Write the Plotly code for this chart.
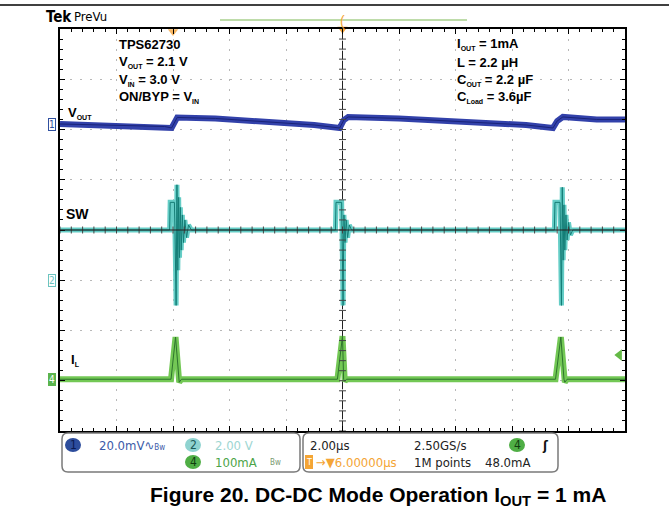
import numpy as np
import plotly.graph_objects as go

# ---- scope screen data (time in us, per channel units) ----
# channel settings
ch1_scale_mv = 20.0     # Vout, mV/div
ch1_pos_div = 2.09
ch2_scale_v = 2.0       # SW, V/div
ch2_pos_div = -1.0
ch4_scale_ma = 100.0    # IL, mA/div
ch4_pos_div = -2.97
trig_pos_us = -6.0
trig_level_ma = 48.0

# Vout ripple (mV, AC)
vout_t = [-10, -6.3, -6.05, -5.85, -4.5, -1.0, -0.1, 0.05, 0.2, 2.0, 6.5, 7.45, 7.6, 7.8, 9.0, 10]
vout_mv = [0.4, -0.6, -1.2, 3.0, 2.6, 0.0, -1.2, 2.0, 3.2, 2.6, 0.0, -1.2, 1.6, 3.2, 2.2, 2.2]

# switch node (V)
sw_t = [-10, -6.12, -6.10, -5.95, -5.93, -5.89, -5.86, -5.83, -5.80, -5.77, -5.74, -5.71,
        -5.67, -5.63, -5.58, -5.52, -5.45, -5.35,
        -0.25, -0.23, -0.03, -0.01, 0.02, 0.05, 0.09, 0.13, 0.18, 0.24, 0.32,
        7.50, 7.52, 7.70, 7.72, 7.75, 7.78, 7.81, 7.84, 7.87, 7.91, 7.95, 8.00, 8.07, 8.15, 10]
sw_v = [2.0, 2.0, 3.1, 3.1, 2.0, -1.0, 3.8, 0.4, 3.3, 0.9, 2.9, 1.2,
        2.6, 1.5, 2.4, 1.7, 2.2, 2.0,
        2.0, 3.1, 3.1, 2.0, -1.0, 2.6, 1.5, 2.4, 1.7, 2.2, 2.0,
        2.0, 3.1, 3.1, 2.0, -1.0, 3.7, 0.8, 3.0, 1.2, 2.6, 1.6, 2.3, 1.8, 2.0, 2.0]

# inductor current (mA)
il_t = [-10, -6.07, -5.91, -5.81, -5.78, -5.70, -0.18, 0.0, 0.04, 0.08, 0.14,
        7.54, 7.73, 7.84, 7.87, 7.95, 10]
il_ma = [0, 0, 84, 0, -6, 0, 0, 86, 0, -4, 0,
         0, 84, 0, -6, 0, 0]

# plot area in pixels
L, R, T, B = 60, 625, 29, 431
W, H = 669, 521


def px(x):
    return (x - L) / (R - L)


def py(y):
    return (B - y) / (B - T)


def rrect(x0, y0, x1, y1, r=6):
    a, b, c, d = px(x0), px(x1), py(y0), py(y1)
    rx, ry = r / (R - L), r / (B - T)
    return (f"M {a+rx},{c} L {b-rx},{c} Q {b},{c} {b},{c-ry} L {b},{d+ry} Q {b},{d} {b-rx},{d} "
            f"L {a+rx},{d} Q {a},{d} {a},{d+ry} L {a},{c-ry} Q {a},{c} {a+rx},{c} Z")


UI = "Liberation Sans Narrow, DejaVu Sans Condensed, Liberation Sans, sans-serif"
BOLD = "Liberation Sans, Arial, sans-serif"

vout_d = [ch1_pos_div + v / ch1_scale_mv for v in vout_mv]
sw_d = [ch2_pos_div + v / ch2_scale_v for v in sw_v]
il_d = [ch4_pos_div + v / ch4_scale_ma for v in il_ma]

fig = go.Figure()


def band(t, d, light, dark, w):
    fig.add_trace(go.Scatter(x=t, y=d, mode="lines", line=dict(color=light, width=w), hoverinfo="skip"))
    fig.add_trace(go.Scatter(x=t, y=d, mode="lines", line=dict(color=dark, width=1), hoverinfo="skip"))


band(vout_t, vout_d, "rgb(50,65,170)", "rgb(25,35,120)", 6)
band(sw_t, sw_d, "rgb(100,205,198)", "rgb(20,125,118)", 5)
band(il_t, il_d, "rgb(115,200,85)", "rgb(45,115,45)", 6)

# graticule ticks on center lines
yt = np.arange(-4, 4.01, 0.2)
xt = np.arange(-10, 10.01, 0.4)
fig.add_trace(go.Scatter(x=[0] * len(yt), y=yt, mode="markers", hoverinfo="skip",
                         marker=dict(symbol="line-ew", size=5, line=dict(width=1, color="#444"))))
fig.add_trace(go.Scatter(x=xt, y=[0] * len(xt), mode="markers", hoverinfo="skip",
                         marker=dict(symbol="line-ns", size=5, line=dict(width=1, color="#444"))))

# trigger markers
fig.add_trace(go.Scatter(x=[9.8], y=[ch4_pos_div + trig_level_ma / ch4_scale_ma], mode="markers",
                         cliponaxis=False, hoverinfo="skip",
                         marker=dict(symbol="triangle-left", size=10, color="rgb(100,185,70)")))
fig.add_trace(go.Scatter(x=[trig_pos_us], y=[3.95], mode="markers", cliponaxis=False, hoverinfo="skip",
                         marker=dict(symbol="triangle-down", size=9, color="rgba(245,165,60,0.8)")))
fig.add_trace(go.Scatter(x=[0], y=[4.0], mode="markers", cliponaxis=False, hoverinfo="skip",
                         marker=dict(symbol="triangle-down", size=9, color="rgb(245,165,60)")))

shapes = [
    dict(type="line", xref="x", yref="y", x0=0, x1=0, y0=-4, y1=4, line=dict(color="#222", width=1), layer="below"),
    dict(type="line", xref="x", yref="y", x0=-10, x1=10, y0=0, y1=0, line=dict(color="#222", width=1), layer="above"),
    dict(type="line", xref="paper", yref="paper", x0=px(0), x1=px(W), y0=py(5), y1=py(5), line=dict(color="black", width=1.5)),
    dict(type="line", xref="paper", yref="paper", x0=px(220), x1=px(467), y0=py(20), y1=py(20), line=dict(color="#a9d18e", width=1.5)),
    dict(type="path", xref="paper", yref="paper", path=rrect(62, 433, 300, 472), line=dict(color="#7a7a7a", width=1.5)),
    dict(type="path", xref="paper", yref="paper", path=rrect(303, 433, 558, 472), line=dict(color="#7a7a7a", width=1.5)),
    dict(type="rect", xref="paper", yref="paper", x0=px(305), x1=px(313), y0=py(469), y1=py(455),
         fillcolor="#f4a535", line=dict(width=0)),
]
for cx, cy, col in [(73, 445, "#2d4d9c"), (193, 445, "#8fd3d0"), (193, 462, "#4fae45"), (517, 445, "#4fae45")]:
    shapes.append(dict(type="circle", xref="paper", yref="paper", x0=px(cx - 8), x1=px(cx + 8),
                       y0=py(cy + 7), y1=py(cy - 7), fillcolor=col, line=dict(width=0)))

ann = []


def text(x, y, s, size=13, color="black", family=BOLD, anchor="left", **kw):
    ann.append(dict(x=px(x), y=py(y), xref="paper", yref="paper", text=s, showarrow=False,
                    xanchor=anchor, yanchor="middle", font=dict(size=size, color=color, family=family), **kw))


sub = lambda s: f"<sub><span style='font-size:7px'>{s}</span></sub>"

text(44, 17, "<b>Tek</b>", 15, family=UI)
text(72, 17, "PreVu", 13, family=UI)
text(342, 21, "(", 14, color="#f4a535", anchor="center")

text(117, 44, "<b>TPS62730</b>")
text(117, 62, f"<b>V{sub('OUT')} = 2.1 V</b>")
text(117, 80, f"<b>V{sub('IN')} = 3.0 V</b>")
text(117, 97, f"<b>ON/BYP = V{sub('IN')}</b>")
text(455, 44, f"<b>I{sub('OUT')} = 1mA</b>")
text(455, 62, "<b>L = 2.2 µH</b>")
text(455, 80, f"<b>C{sub('OUT')} = 2.2 µF</b>")
text(455, 97, f"<b>C{sub('Load')} = 3.6µF</b>")

text(66, 113, f"<b>V{sub('OUT')}</b>")
text(64, 214, "<b>SW</b>", 14)
text(69, 360, f"<b>I{sub('L')}</b>")

# channel ground markers
for yd, s, fg, bg, bc in [(ch1_pos_div, "1", "#3050a0", "white", "#3050a0"),
                          (ch2_pos_div, "2", "#6cc4c0", "white", "#6cc4c0"),
                          (ch4_pos_div, "4", "white", "#5bb44e", "#5bb44e")]:
    ann.append(dict(x=px(52), y=yd, xref="paper", yref="y", text=s, showarrow=False, xanchor="center",
                    yanchor="middle", font=dict(size=10, color=fg, family=UI), bgcolor=bg,
                    bordercolor=bc, borderwidth=1, borderpad=0))

# readout boxes
text(73, 445, "1", 12, color="#0b1a50", family=UI, anchor="center")
text(97, 445, "20.0mV∿<span style='font-size:8px'>Bw</span>", 13, color="#3b5aa8", family=UI)
text(193, 445, "2", 12, color="#1c5a58", family=UI, anchor="center")
text(213, 445, "2.00 V", 13, color="#9ed6d2", family=UI)
text(193, 462, "4", 12, color="#0f3d0f", family=UI, anchor="center")
text(213, 462, "100mA", 13, color="#4ca447", family=UI)
text(268, 462, "Bw", 8, color="#7a9a70", family=UI)
text(309, 462, "T", 9, color="white", family=UI, anchor="center")
text(308, 445, "2.00µs", 13, color="#222", family=UI)
text(412, 445, "2.50GS/s", 13, color="#222", family=UI)
text(517, 445, "4", 12, color="#0f3d0f", family=UI, anchor="center")
text(540, 445, "<b>ʃ</b>", 13, color="#111", family=UI)
text(314, 462, "→▼6.00000µs", 13, color="#f4a535", family=UI)
text(412, 462, "1M points", 13, color="#222", family=UI)
text(483, 462, "48.0mA", 13, color="#222", family=UI)

text(378, 496, "<b>Figure 20. DC-DC Mode Operation I<sub>OUT</sub> = 1 mA</b>", 21, anchor="center")

axis_common = dict(showgrid=True, gridcolor="#b8b8b8", griddash="2px,8px", zeroline=False,
                   showline=True, linecolor="black", linewidth=1.5, mirror="allticks",
                   ticks="inside", ticklen=5, tickcolor="black", showticklabels=False)

fig.update_layout(
    width=W, height=H,
    margin=dict(l=L, r=W - R, t=T, b=H - B),
    paper_bgcolor="white", plot_bgcolor="white",
    showlegend=False,
    xaxis=dict(range=[-10, 10], dtick=2, tick0=0,
               minor=dict(dtick=0.4, ticks="inside", ticklen=3, tickcolor="black", showgrid=False),
               **axis_common),
    yaxis=dict(range=[-4, 4], dtick=1, tick0=0,
               minor=dict(dtick=0.2, ticks="inside", ticklen=3, tickcolor="black", showgrid=False),
               **axis_common),
    shapes=shapes,
    annotations=ann,
)

# page has a default 8px body margin; drop it so the figure sits at the window corner
fig.write_html("out.html", config={"displayModeBar": False},
               post_script="document.body.style.margin='0';")
